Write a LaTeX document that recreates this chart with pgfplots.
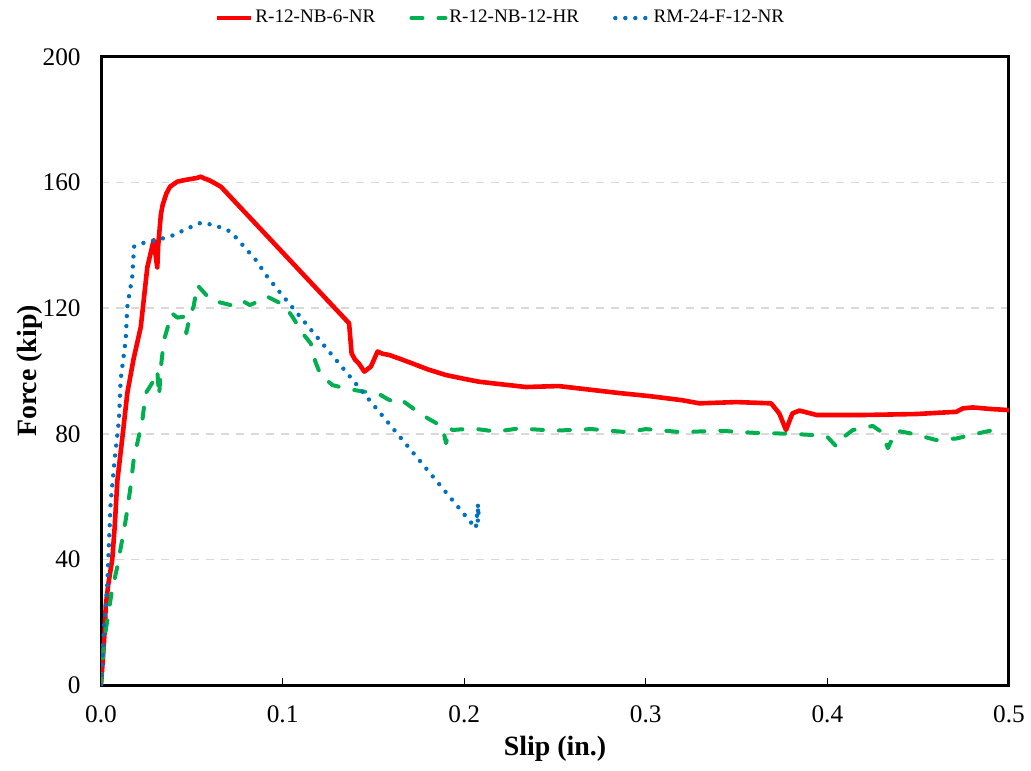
\documentclass[border=0pt]{standalone}
\usepackage{fontspec}
\setmainfont{Liberation Serif}
\usepackage{pgfplots}
\pgfplotsset{compat=1.18}
\definecolor{cred}{RGB}{255,0,0}
\definecolor{cgreen}{RGB}{0,176,80}
\definecolor{cblue}{RGB}{0,112,192}
\definecolor{cgrid}{RGB}{217,217,217}
\begin{document}
\begin{tikzpicture}
\path[use as bounding box] (-50.5bp,-43bp) rectangle (465bp,342.5bp);
\begin{axis}[
  at={(0,0)}, anchor=south west,
  scale only axis, width=454bp, height=314bp,
  xmin=0, xmax=0.5, ymin=0, ymax=200,
  xtick={0,0.1,0.2,0.3,0.4,0.5},
  xticklabels={0.0,0.1,0.2,0.3,0.4,0.5},
  ytick={0,40,80,120,160,200},
  /pgf/number format/assume math mode=true,
  ticklabel style={font=\fontsize{12.7}{14}\selectfont},
  xticklabel style={anchor=north, inner sep=0pt, yshift=-10bp},
  yticklabel style={anchor=east, inner sep=0pt, xshift=-10bp},
  xtick pos=left, tick align=inside, major tick length=3.5bp,
  xtick style={black, line width=0.6bp},
  ytick style={draw=none},
  axis line style={line width=1.5bp, black},
  ymajorgrids, grid style={cgrid, line width=0.8bp, dash pattern=on 4bp off 3.5bp},
  xlabel={\textbf{Slip (in.)}},
  ylabel={\textbf{Force (kip)}},
  label style={font=\fontsize{14}{16}\selectfont},
  xlabel style={at={(axis description cs:0.5,-0.102)}, anchor=center},
  ylabel style={at={(axis description cs:-0.078,0.5)}, anchor=center},
  legend columns=3,
  legend style={draw=none, fill=none, at={(0.44,1.062)}, anchor=center,
    font=\fontsize{9.6}{11}\selectfont,
    /tikz/every even column/.append style={column sep=16bp},
    nodes={inner sep=1pt}},
  legend cell align=left,
]
\addplot[cred, line width=2.3bp, line join=round] coordinates {
(0,0) (0.001,8) (0.002,17) (0.0026,25) (0.004,32) (0.0062,40) (0.0075,50)
(0.009,65) (0.012,80) (0.0145,93) (0.018,104) (0.0219,114) (0.0255,133)
(0.029,141.7) (0.0305,135) (0.031,133) (0.0315,140) (0.033,150) (0.034,153)
(0.036,156.5) (0.038,158.7) (0.042,160.3) (0.046,160.8) (0.050,161.2)
(0.053,161.5) (0.055,161.9) (0.057,161.3) (0.0595,160.8) (0.062,160)
(0.066,158.7) (0.1366,115.2) (0.138,105.6) (0.140,103.5) (0.142,102.4)
(0.145,99.8) (0.1486,101.4) (0.1523,106.2) (0.155,105.5) (0.1587,105.1)
(0.165,103.8) (0.1715,102.4) (0.18,100.5) (0.19,98.7) (0.2,97.5)
(0.208,96.6) (0.22,95.8) (0.234,94.9) (0.252,95.2) (0.27,94) (0.285,93)
(0.302,92) (0.32,90.7) (0.3295,89.7) (0.35,90.1) (0.369,89.7) (0.3735,86.5)
(0.3772,81.2) (0.3807,86.5) (0.3846,87.4) (0.394,86) (0.421,86) (0.449,86.3)
(0.471,87) (0.4746,88.1) (0.48,88.4) (0.49,87.9) (0.4985,87.6) (0.5,87.5)
};
\addlegendentry{R-12-NB-6-NR}
\addplot[cgreen, line width=2bp, line cap=round, line join=round, dash pattern=on 5.5bp off 8bp] coordinates {
(0,0) (0.0017,14) (0.0044,24) (0.006,30) (0.009,37.7) (0.0136,52.5)
(0.016,62) (0.018,71.7) (0.0228,84.4) (0.0246,92.9) (0.028,96) (0.031,100)
(0.032,92) (0.033,101.4) (0.0347,109.9) (0.039,118.4) (0.042,117)
(0.0457,117.3) (0.047,112) (0.049,118) (0.051,120.5) (0.053,127.4)
(0.0604,122.6) (0.0714,121) (0.077,122.6) (0.082,121) (0.086,122)
(0.0915,123.7) (0.1008,121) (0.1054,117.3) (0.111,112) (0.1155,108.8)
(0.118,103) (0.121,98.7) (0.1275,95.5) (0.1366,94.2) (0.153,92.7)
(0.158,91) (0.161,90.2) (0.165,91) (0.173,87.6) (0.18,84.9) (0.188,82.3)
(0.19,77) (0.192,82) (0.1935,81.2) (0.2046,81.7) (0.2175,80.7) (0.23,81.7)
(0.25,81) (0.27,81.5) (0.29,80.5) (0.3,81.5) (0.32,80.5) (0.34,81)
(0.36,80.3) (0.38,80) (0.395,79.5) (0.4,79) (0.405,75.9) (0.409,79)
(0.414,81.2) (0.425,82.5) (0.43,80.5) (0.4333,75.4) (0.4378,81) (0.447,80)
(0.46,78) (0.471,78.5) (0.482,80) (0.493,81.4) (0.497,81)
};
\addlegendentry{R-12-NB-12-HR}
\addplot[cblue, line width=2.2bp, line cap=round, dash pattern=on 0bp off 5bp] coordinates {
(0,0) (0.0017,18.6) (0.0035,32.4) (0.0053,57.9) (0.0075,71.7) (0.0099,84.4)
(0.0108,97.1) (0.0136,109.9) (0.0145,120.5) (0.0172,130) (0.0182,139.6)
(0.0219,140.6) (0.031,141.7) (0.0402,143.3) (0.0476,145.4) (0.055,147.2)
(0.0623,146.5) (0.0714,144.4) (0.0788,139.6) (0.0852,135.4) (0.0916,130)
(0.099,124.7) (0.144,93.4) (0.2064,49.9) (0.2077,57.9) (0.2075,52) (0.208,56)
};
\addlegendentry{RM-24-F-12-NR}
\end{axis}
\end{tikzpicture}
\end{document}
